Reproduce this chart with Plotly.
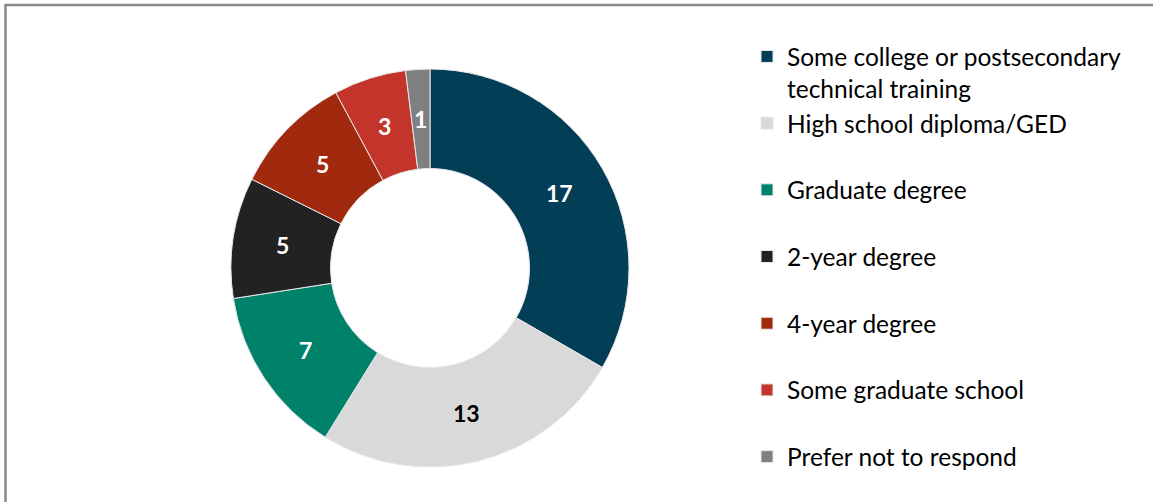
import numpy as np
import plotly.graph_objects as go

# education level counts
labels = [
    'Some college or postsecondary<br>technical training',
    'High school diploma/GED<br> ',
    'Graduate degree<br> ',
    '2-year degree<br> ',
    '4-year degree<br> ',
    'Some graduate school<br> ',
    'Prefer not to respond',
]
counts = [17, 13, 7, 5, 5, 3, 1]
colors = ['#023F57', '#D9D9D9', '#00826A', '#222222', '#A1290E', '#C3352A', '#808080']
text_colors = ['white', 'black', 'white', 'white', 'white', 'white', 'white']

W, H = 1153, 502
cx, cy, r_out = 430, 268, 199  # donut centre / radius in px

fig = go.Figure(go.Pie(
    labels=labels,
    values=counts,
    hole=0.5,
    sort=False,
    direction='clockwise',
    rotation=0,
    marker=dict(colors=colors, line=dict(color='#E8E8E8', width=1)),
    textinfo='none',
    domain=dict(x=[(cx - r_out) / W, (cx + r_out) / W], y=[1 - (cy + r_out) / H, 1 - (cy - r_out) / H]),
))

# value labels at the middle of each ring segment
r_mid = r_out * 0.75
cum = np.cumsum([0] + counts)
for i, v in enumerate(counts):
    ang = 2 * np.pi * (cum[i] + v / 2) / cum[-1]
    fig.add_annotation(
        x=(cx + r_mid * np.sin(ang)) / W, y=1 - (cy - r_mid * np.cos(ang)) / H,
        xref='paper', yref='paper', xanchor='center', yanchor='middle',
        text=str(v), showarrow=False,
        font=dict(family='Lato', size=23, weight='bold', color=text_colors[i]),
    )

# top and left frame lines (the picture is cropped at right/bottom)
fig.add_shape(type='line', xref='paper', yref='paper', x0=5 / W, x1=1, y0=1 - 5 / H, y1=1 - 5 / H,
              line=dict(color='#878787', width=2.5))
fig.add_shape(type='line', xref='paper', yref='paper', x0=5.5 / W, x1=5.5 / W, y0=0, y1=1 - 4 / H,
              line=dict(color='#878787', width=2.5))

fig.update_layout(
    width=W, height=H,
    margin=dict(l=0, r=0, t=0, b=0),
    paper_bgcolor='white',
    plot_bgcolor='white',
    legend=dict(
        x=747 / W, y=1 - 34 / H, xanchor='left', yanchor='top',
        valign='top',
        font=dict(family='Lato', size=24.5, color='black'),
        itemclick=False,
    ),
)

fig.write_html("out.html", config={'displayModeBar': False},
               post_script="document.body.style.margin='0';")
